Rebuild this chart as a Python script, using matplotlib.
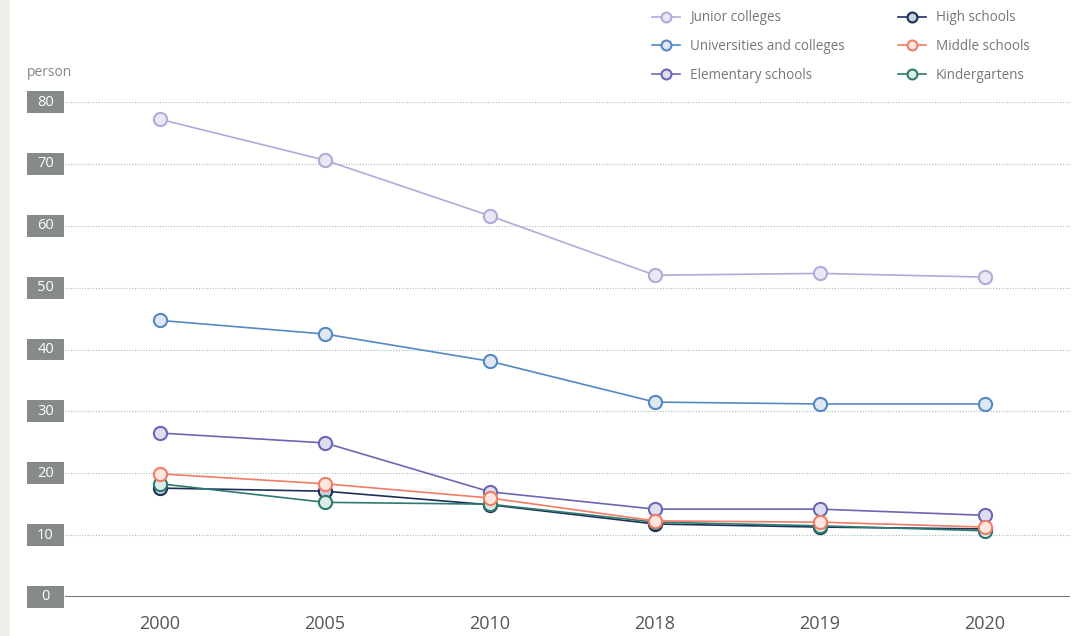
import matplotlib.pyplot as plt
from matplotlib.patches import Rectangle
from matplotlib import transforms

plt.rcParams['font.family'] = ['Open Sans', 'DejaVu Sans']

years = ['2000', '2005', '2010', '2018', '2019', '2020']
junior = [77.2, 70.6, 61.6, 52.0, 52.3, 51.7]
univ = [44.7, 42.5, 38.1, 31.5, 31.2, 31.2]
elementary = [26.5, 24.9, 17.0, 14.2, 14.2, 13.2]
high = [17.6, 17.1, 14.9, 11.8, 11.3, 11.0]
middle = [19.9, 18.3, 16.0, 12.3, 12.1, 11.3]
kinder = [18.3, 15.3, 15.0, 12.1, 11.5, 10.7]
yticks = [0, 10, 20, 30, 40, 50, 60, 70, 80]

series = [
    ('Junior colleges', junior, '#b4a9d8', '#ebe8f5'),
    ('Universities and colleges', univ, '#5588c4', '#dfe7f4'),
    ('Elementary schools', elementary, '#6b66b5', '#dedef0'),
    ('High schools', high, '#1c2f57', '#cad0dd'),
    ('Middle schools', middle, '#f27c66', '#fde7de'),
    ('Kindergartens', kinder, '#2f7a70', '#dbece8'),
]

fig = plt.figure(figsize=(10.79, 6.36), dpi=100)
ax = fig.add_axes([65 / 1079, 1 - 597 / 636, (1070 - 65) / 1079, (597 - 102) / 636])

# light band on the left edge
fig.patches.append(Rectangle((0, 0), 10 / 1079, 1, transform=fig.transFigure,
                             facecolor='#eef0ec', edgecolor='none', zorder=0))

x = list(range(len(years)))
handles = {}
draw_order = ['Junior colleges', 'Universities and colleges', 'Elementary schools',
              'High schools', 'Kindergartens', 'Middle schools']
lookup = {s[0]: s for s in series}
for name in draw_order:
    _, vals, lc, fc = lookup[name]
    h, = ax.plot(x, vals, color=lc, lw=1.2, marker='o', markersize=9.5,
                 markerfacecolor=fc, markeredgecolor=lc, markeredgewidth=1.5,
                 label=name, clip_on=False, zorder=3)
    handles[name] = h

ax.set_xlim(-0.576, 5.515)
ax.set_ylim(0, 80)
ax.set_yticks(yticks)
ax.set_yticklabels([])
ax.tick_params(axis='y', length=0)
ax.set_xticks(x)
ax.set_xticklabels(years, fontsize=13, color='#555555')
ax.tick_params(axis='x', length=0, pad=13)

for v in yticks[1:]:
    ax.axhline(v, color='#9fbfb8', lw=0.8, ls=(0, (1, 1.5)), zorder=1)
ax.axhline(0, color='#555555', lw=1.2, zorder=2)

for s in ax.spines.values():
    s.set_visible(False)

# gray tick boxes
trans = transforms.blended_transform_factory(fig.transFigure, ax.transData)
box_h = 22 / 6.19
for v in yticks:
    ax.add_patch(Rectangle((27 / 1079, v - box_h / 2), 37 / 1079, box_h, transform=trans,
                           facecolor='#868a8b', edgecolor='none', clip_on=False))
    ax.text(45.5 / 1079, v, str(v), transform=trans, ha='center', va='center',
            color='white', fontsize=10.5, clip_on=False)

fig.text(27 / 1079, 1 - 72 / 636, 'person', fontsize=10, color='#888888',
         ha='left', va='center')

order = ['Junior colleges', 'Universities and colleges', 'Elementary schools',
         'High schools', 'Middle schools', 'Kindergartens']
fig.legend([handles[n] for n in order], order, loc='upper left',
           bbox_to_anchor=(640 / 1079, 1.003), ncol=2, frameon=False,
           fontsize=9.75, labelcolor='#777777', handlelength=2.07, handletextpad=0.74,
           columnspacing=3.9, labelspacing=1.02, markerscale=0.75)

fig.savefig('out.png', dpi=100)
